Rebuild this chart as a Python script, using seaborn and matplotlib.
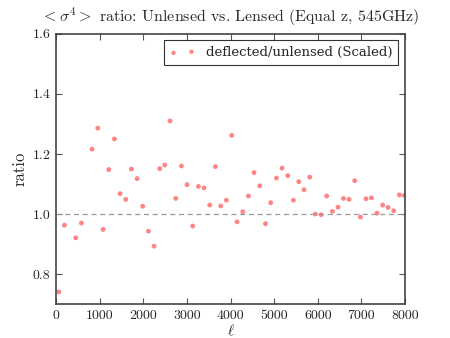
import matplotlib
matplotlib.use("Agg")
import matplotlib.pyplot as plt
import seaborn as sns
import pandas as pd

ell = [57, 188, 447, 577, 822, 952, 1074, 1204, 1335, 1464, 1594, 1724, 1854, 1984,
       2114, 2244, 2374, 2489, 2610, 2741, 2871, 3000, 3131, 3261, 3390, 3521, 3651,
       3773, 3903, 4025, 4147, 4278, 4408, 4537, 4667, 4798, 4920, 5050, 5179, 5310,
       5440, 5562, 5683, 5814, 5945, 6074, 6204, 6335, 6464, 6587, 6716, 6846, 6977,
       7106, 7229, 7358, 7489, 7610, 7741, 7872, 7986]
ratio = [0.741, 0.963, 0.921, 0.970, 1.216, 1.286, 0.949, 1.148, 1.250, 1.068, 1.049,
         1.150, 1.118, 1.026, 0.943, 0.893, 1.151, 1.163, 1.310, 1.052, 1.160, 1.098,
         0.960, 1.092, 1.087, 1.030, 1.158, 1.027, 1.046, 1.262, 0.974, 1.008, 1.060,
         1.138, 1.094, 0.968, 1.038, 1.120, 1.153, 1.128, 1.046, 1.108, 1.081, 1.123,
         1.000, 0.998, 1.060, 1.009, 1.023, 1.052, 1.049, 1.111, 0.990, 1.051, 1.054,
         1.003, 1.030, 1.022, 1.011, 1.064, 1.062]
xticks = [0, 1000, 2000, 3000, 4000, 5000, 6000, 7000, 8000]
yticks = [0.8, 1.0, 1.2, 1.4, 1.6]

sns.set_style("ticks")
plt.rcParams['mathtext.fontset'] = 'cm'
plt.rcParams['font.family'] = ['cmr10', 'DejaVu Serif']
plt.rcParams['axes.formatter.use_mathtext'] = True

df = pd.DataFrame({"ell": ell, "ratio": ratio})

fig = plt.figure(figsize=(4.5, 3.38), dpi=100)
ax = fig.add_axes([0.125, 0.1, 0.775, 0.8])
sns.scatterplot(data=df, x="ell", y="ratio", ax=ax, color="#ff6f6f", alpha=0.85,
                s=12, edgecolor="none", label="deflected/unlensed (Scaled)")
ax.axhline(1.0, color="#999999", linestyle="--", linewidth=0.9, dashes=(4, 3))

ax.set_xlim(0, 8000)
ax.set_ylim(0.7, 1.6)
ax.set_xticks(xticks)
ax.set_yticks(yticks)
ax.set_xticklabels([str(t) for t in xticks])
ax.set_yticklabels([f"{t:.1f}" for t in yticks])
ax.tick_params(direction="in", top=True, right=True, labelsize=10, length=4, width=0.8,
               color="#555555", pad=4)
for sp in ax.spines.values():
    sp.set_visible(True)
    sp.set_color("#444444")
    sp.set_linewidth(1.2)

ax.set_xlabel(r"$\ell$", fontsize=11, labelpad=1)
ax.set_ylabel("ratio", fontsize=12, labelpad=4)
ax.set_title(r"$<\sigma^4>$ ratio: Unlensed vs. Lensed (Equal z, 545GHz)", fontsize=11.5, pad=9)

leg = ax.legend(loc="upper right", scatterpoints=2, fancybox=False, frameon=True,
                prop={"family": "DejaVu Serif", "size": 9.5}, borderaxespad=0.5,
                handletextpad=0.8, borderpad=0.45, handlelength=1.96, markerscale=0.9)
leg.get_frame().set_edgecolor("black")
leg.get_frame().set_linewidth(0.8)

fig.savefig("out.png", dpi=100)
